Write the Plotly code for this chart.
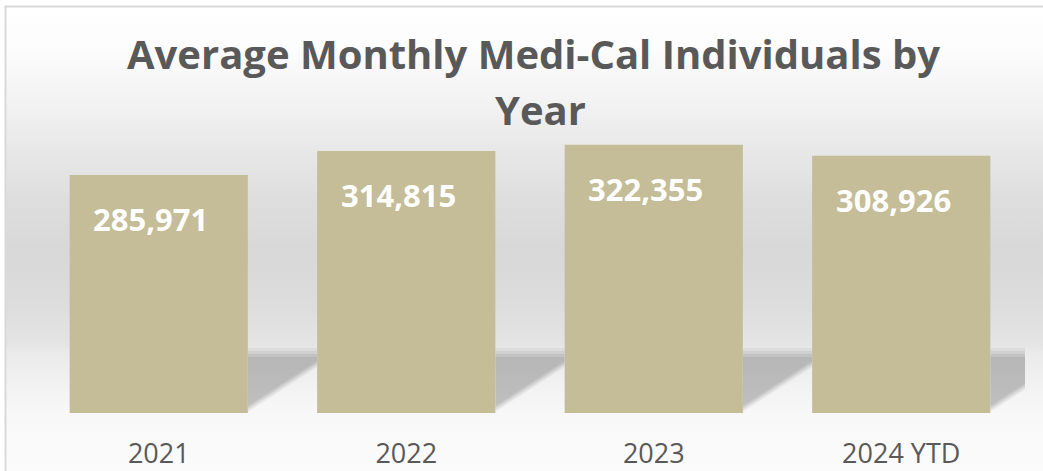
import base64
import plotly.graph_objects as go

# data
years = ["2021", "2022", "2023", "2024 YTD"]
individuals = [285971, 314815, 322355, 308926]

BAR = "#C4BD97"
GREY_TXT = "#595959"
FONT = "Open Sans"

W, H = 1043, 471
L, R, T, B = 35, 18, 80, 58
PW, PH = W - L - R, H - T - B
Y_MAX = 400000
BAR_W = 0.72


def px_x(p):
    return (p - L) / PW


def px_y(p):
    return (H - B - p) / PH


def px_val(p):
    # pixel height above the baseline -> data units
    return p / PH * Y_MAX


# wall / floor gradient as an svg background
stops = [(7, "#ffffff"), (50, "#fcfcfc"), (100, "#f3f3f3"), (150, "#e8e8e8"),
         (200, "#dedede"), (250, "#d8d8d8"), (300, "#dcdcdc"), (345, "#e5e5e5"),
         (352, "#eaeaea"), (385, "#f2f2f2"), (415, "#f8f8f8"), (471, "#fbfbfb")]
stop_xml = "".join(
    f'<stop offset="{(y - 7) / (471 - 7):.4f}" stop-color="{c}"/>' for y, c in stops
)
svg = (
    '<svg xmlns="http://www.w3.org/2000/svg" width="100" height="100" preserveAspectRatio="none">'
    f'<defs><linearGradient id="g" x1="0" y1="0" x2="0" y2="1">{stop_xml}</linearGradient></defs>'
    '<rect width="100" height="100" fill="url(#g)"/></svg>'
)
bg_src = "data:image/svg+xml;base64," + base64.b64encode(svg.encode()).decode()

xs = list(range(len(years)))

fig = go.Figure(go.Bar(
    x=xs,
    y=individuals,
    width=BAR_W,
    marker=dict(color=BAR, line=dict(width=0)),
    hoverinfo="skip",
))

# floor shadows to the right of each bar (a few stacked layers for a soft edge)
shadow_top = px_val(66)
shapes = []
gap = 1 - BAR_W
for i in xs:
    xr = i + BAR_W / 2
    for k, op in enumerate([0.05, 0.06, 0.07, 0.06]):
        path = (f"M {xr},{shadow_top - px_val(1 + k * 3)} "
                f"L {xr + gap},{shadow_top - px_val(1 + k * 3)} "
                f"L {xr + gap},{shadow_top - px_val(20 - k * 2)} "
                f"L {xr},{px_val(1 + k * 2)} Z")
        shapes.append(dict(type="path", path=path, xref="x", yref="y",
                           fillcolor=f"rgba(0,0,0,{op})", line=dict(width=0),
                           layer="below"))

# chart border (left and top)
shapes.append(dict(type="line", xref="paper", yref="paper",
                   x0=px_x(5.5), x1=px_x(5.5), y0=px_y(6), y1=px_y(H + 2),
                   line=dict(color="#d9d9d9", width=2)))
shapes.append(dict(type="line", xref="paper", yref="paper",
                   x0=px_x(4.5), x1=px_x(W + 2), y0=px_y(6.5), y1=px_y(6.5),
                   line=dict(color="#d9d9d9", width=2)))

annotations = [
    dict(text="<b>Average Monthly Medi-Cal Individuals by</b>", xref="paper", yref="paper",
         x=px_x(533), y=px_y(54), xanchor="center", yanchor="middle", showarrow=False,
         font=dict(family=FONT, size=40, color=GREY_TXT)),
    dict(text="<b>Year</b>", xref="paper", yref="paper",
         x=px_x(540), y=px_y(110), xanchor="center", yanchor="middle", showarrow=False,
         font=dict(family=FONT, size=40, color=GREY_TXT)),
]
for i, v in zip(xs, individuals):
    annotations.append(dict(
        text=f"<b>{v:,}</b>", x=i, y=v, xref="x", yref="y",
        yanchor="middle", xanchor="center", yshift=-44, xshift=-8,
        showarrow=False, font=dict(family=FONT, size=31, color="white"),
    ))

fig.update_layout(
    width=W, height=H,
    margin=dict(l=L, r=R, t=T, b=B, autoexpand=False),
    paper_bgcolor="white",
    plot_bgcolor="rgba(0,0,0,0)",
    showlegend=False,
    shapes=shapes,
    annotations=annotations,
    images=[dict(source=bg_src, xref="paper", yref="paper",
                 x=px_x(6), y=px_y(7), sizex=(W - 6) / PW, sizey=(H - 7) / PH,
                 xanchor="left", yanchor="top", sizing="stretch", layer="below")],
    xaxis=dict(
        range=[-0.5, len(years) - 0.5],
        tickvals=xs, ticktext=years,
        showgrid=False, zeroline=False, showline=False, ticks="",
        ticklabelstandoff=22, automargin=False,
        tickfont=dict(family=FONT, size=27, color=GREY_TXT),
        fixedrange=True,
    ),
    yaxis=dict(
        range=[0, Y_MAX], visible=False, showgrid=False, zeroline=False,
        automargin=False, fixedrange=True,
    ),
)

fig.write_html("out.html", config=dict(displayModeBar=False),
               post_script="document.body.style.margin='0';")
